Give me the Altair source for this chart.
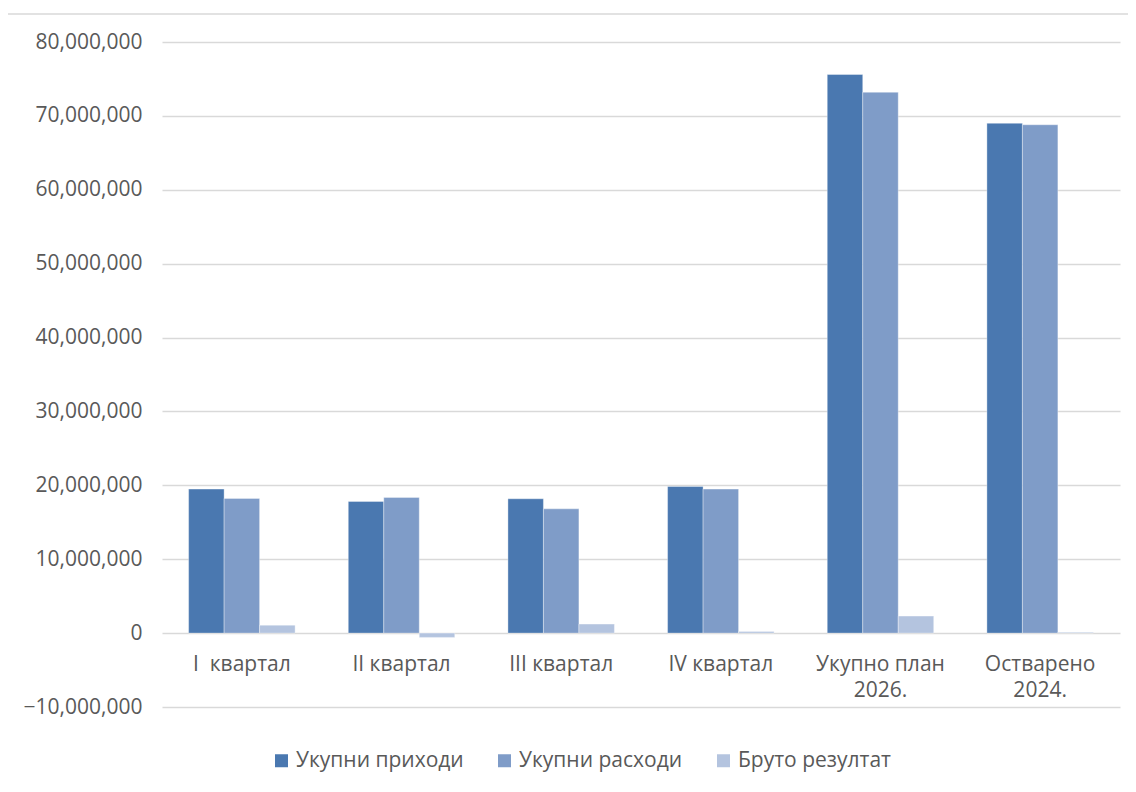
import altair as alt
import pandas as pd

categories = ["I\u00a0 квартал", "II квартал", "III квартал", "IV квартал", "Укупно план\n2026.", "Остварено\n2024."]
series = ["Укупни приходи", "Укупни расходи", "Бруто резултат"]
prihodi = [19490000, 17820000, 18180000, 19850000, 75600000, 69000000]
rashodi = [18230000, 18360000, 16820000, 19490000, 73200000, 68800000]
bruto = [1080000, -580000, 1220000, 230000, 2300000, 100000]
colors = ["#4a78b0", "#7f9cc8", "#b4c4df"]

rows = []
for i, c in enumerate(categories):
    for s, vals in zip(series, [prihodi, rashodi, bruto]):
        rows.append({"cat": c, "series": s, "value": vals[i]})
df = pd.DataFrame(rows)

FONT = "Open Sans"
TXT = "#595959"
FS = 21

border = alt.Chart(pd.DataFrame({"a": [0]})).mark_rect(
    fill="transparent", stroke="#d9d9d9", strokeWidth=1.5
).encode(
    x=alt.value(-155), x2=alt.value(1000), y=alt.value(-28), y2=alt.value(800)
)

bars = alt.Chart(df).mark_bar(stroke="#ffffff", strokeWidth=0.6, strokeOpacity=0.6).encode(
    x=alt.X("cat:N", sort=categories, title=None,
            scale=alt.Scale(paddingInner=0.333, paddingOuter=0.1667),
            axis=alt.Axis(orient="bottom", offset=-74, domain=False, ticks=False,
                          labelAngle=0, labelPadding=20, labelFontSize=FS,
                          labelFont=FONT, labelColor=TXT, labelLineHeight=26,
                          labelExpr="split(datum.label, '\\n')")),
    xOffset=alt.XOffset("series:N", sort=series, scale=alt.Scale(paddingInner=0, paddingOuter=0)),
    y=alt.Y("value:Q", title=None,
            scale=alt.Scale(domain=[-10000000, 80000000], nice=False),
            axis=alt.Axis(values=list(range(-10000000, 80000001, 10000000)), format=",.0f",
                          domain=False, ticks=False, labelPadding=20, labelFontSize=FS,
                          labelFont=FONT, labelColor=TXT, gridColor="#d9d9d9", gridWidth=1.5)),
    color=alt.Color("series:N", sort=series, title=None,
                    scale=alt.Scale(domain=series, range=colors),
                    legend=alt.Legend(orient="none", legendX=109, legendY=708, direction="horizontal",
                                      symbolType="square", symbolSize=169, symbolStrokeWidth=0,
                                      labelFontSize=FS, labelFont=FONT, labelColor=TXT,
                                      labelOffset=4, columnPadding=30, labelLimit=300)),
)

chart = alt.layer(border, bars).properties(
    width=958, height=665,
    autosize=alt.AutoSizeParams(type="none"),
    padding={"left": 154, "top": 34, "right": 8, "bottom": 80},
).configure_view(stroke=None)

chart.save("out.html", embed_options={"renderer": "svg", "actions": False})
